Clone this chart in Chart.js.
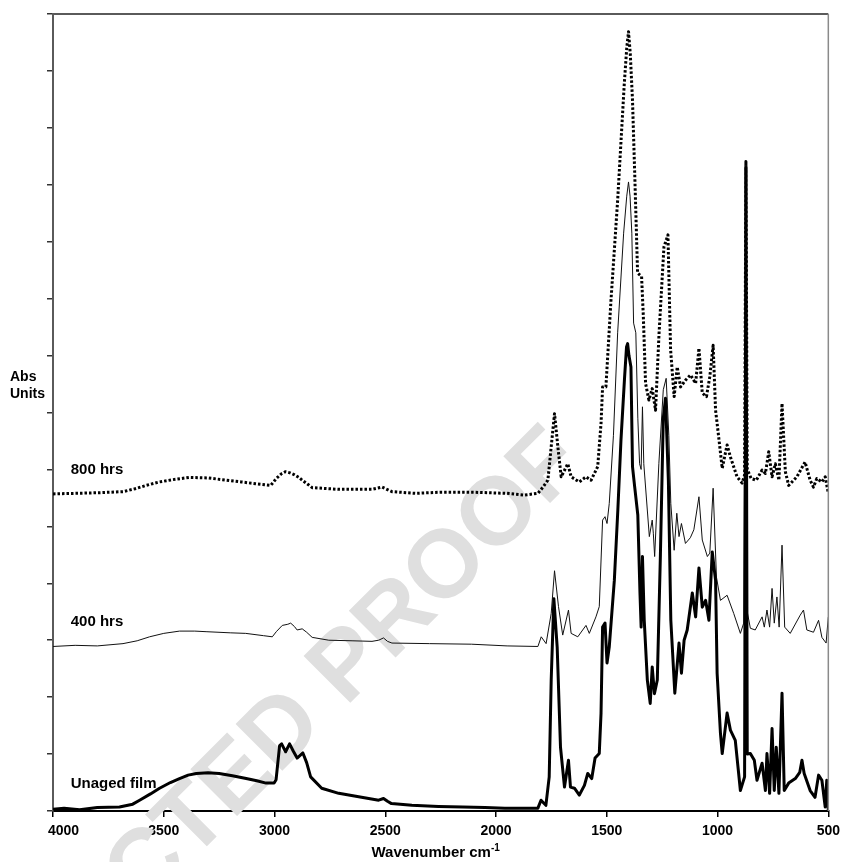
<!DOCTYPE html>
<html>
<head>
<meta charset="utf-8">
<script src="https://cdn.jsdelivr.net/npm/chart.js@4.4.0/dist/chart.umd.min.js"></script>
<style>
  html, body { margin: 0; padding: 0; background: #fff; }
  #wrap { width: 846px; height: 862px; }
</style>
</head>
<body>
<div id="wrap"><canvas id="chart" width="846" height="862"></canvas></div>
<script>
// FTIR spectra, wavenumber (cm-1) vs absorbance, curves offset vertically
const seriesNames = ['Unaged film', '400 hrs', '800 hrs']
const xTicks = [4000, 3500, 3000, 2500, 2000, 1500, 1000, 500]

const wnUnaged = [
  4000, 3950, 3880, 3800, 3700, 3640, 3609, 3560, 3519, 3470, 3429, 3390, 3353, 3300, 3250, 3190,
  3128, 3080, 3038, 3002, 2993, 2977, 2968, 2950, 2932, 2915, 2898, 2872, 2855, 2837, 2787, 2710,
  2620, 2562, 2530, 2508, 2490, 2472, 2380, 2260, 2150, 2050, 1960, 1880, 1811, 1797, 1785, 1775,
  1760, 1751, 1739, 1724, 1709, 1691, 1673, 1664, 1646, 1624, 1601, 1586, 1568, 1553, 1534, 1526,
  1519, 1508, 1499, 1489, 1466, 1450, 1436, 1420, 1411, 1406, 1400, 1391, 1384, 1374, 1360, 1350,
  1345, 1339, 1331, 1317, 1304, 1295, 1285, 1272, 1258, 1245, 1235, 1222, 1211, 1193, 1174, 1163,
  1151, 1137, 1114, 1099, 1084, 1069, 1054, 1039, 1024, 1009, 1002, 987, 979, 957, 942, 920,
  897, 878, 872, 866, 852, 834, 822, 799, 784, 777, 765, 754, 744, 735, 723, 709,
  699, 679, 649, 629, 619, 609, 582, 560, 544, 529, 514, 507, 500,
]
const absUnaged = [
  0.03, 0.05, 0.02, 0.06, 0.07, 0.12, 0.19, 0.30, 0.40, 0.50, 0.57, 0.63, 0.66, 0.67, 0.66, 0.62,
  0.57, 0.53, 0.49, 0.49, 0.55, 1.15, 1.18, 1.04, 1.18, 1.05, 0.93, 1.02, 0.85, 0.60, 0.40, 0.31,
  0.25, 0.21, 0.19, 0.22, 0.17, 0.13, 0.10, 0.08, 0.07, 0.06, 0.05, 0.05, 0.05, 0.19, 0.14, 0.10,
  0.60, 2.30, 3.73, 2.88, 1.12, 0.42, 0.89, 0.42, 0.40, 0.28, 0.45, 0.66, 0.57, 0.93, 1.01, 1.72,
  3.23, 3.30, 2.60, 2.88, 4.05, 5.30, 6.52, 7.60, 8.15, 8.21, 8.00, 7.80, 6.05, 5.69, 5.20, 3.80,
  3.23, 4.47, 3.35, 2.30, 1.89, 2.53, 2.06, 2.30, 4.50, 6.90, 7.25, 5.80, 3.35, 2.07, 2.95, 2.42,
  3.00, 3.18, 3.83, 3.41, 4.27, 3.58, 3.70, 3.35, 4.55, 4.05, 2.42, 1.37, 1.01, 1.72, 1.42, 1.24,
  0.36, 0.60, 11.30, 1.00, 1.01, 0.89, 0.54, 0.84, 0.36, 1.01, 0.31, 1.45, 0.36, 1.12, 0.31, 2.07,
  0.36, 0.49, 0.57, 0.68, 0.89, 0.66, 0.36, 0.24, 0.63, 0.54, 0.07, 0.54, 0.00,
]

const wn400 = [
  4000, 3900, 3800, 3684, 3620, 3564, 3500, 3429, 3360, 3309, 3200, 3130, 3050, 3010, 2992, 2965,
  2940, 2927, 2910, 2898, 2875, 2855, 2830, 2755, 2650, 2560, 2530, 2508, 2490, 2470, 2300, 2111,
  1950, 1811, 1796, 1774, 1751, 1736, 1718, 1699, 1673, 1661, 1631, 1594, 1579, 1549, 1534, 1519,
  1508, 1499, 1489, 1470, 1451, 1424, 1410, 1402, 1395, 1387, 1379, 1369, 1360, 1352, 1345, 1339,
  1333, 1308, 1295, 1290, 1284, 1265, 1245, 1232, 1220, 1211, 1196, 1184, 1174, 1163, 1145, 1123,
  1107, 1084, 1069, 1046, 1035, 1020, 1005, 987, 957, 927, 897, 882, 872, 866, 852, 830,
  799, 789, 777, 765, 754, 744, 732, 722, 709, 697, 672, 627, 612, 597, 567, 544,
  529, 510, 500,
]
const abs400 = [
  2.89, 2.91, 2.90, 2.94, 2.99, 3.06, 3.12, 3.16, 3.16, 3.15, 3.13, 3.12, 3.08, 3.06, 3.15, 3.26,
  3.28, 3.30, 3.24, 3.18, 3.20, 3.14, 3.05, 3.00, 2.99, 2.98, 3.00, 3.04, 2.98, 2.95, 2.94, 2.93,
  2.90, 2.89, 3.06, 2.94, 3.47, 4.22, 3.59, 3.09, 3.53, 3.12, 3.06, 3.26, 3.12, 3.41, 3.59, 5.11,
  5.17, 5.05, 5.40, 6.60, 8.40, 10.15, 10.80, 11.05, 10.80, 10.15, 8.57, 8.40, 6.90, 6.10, 6.00, 7.10,
  6.10, 4.82, 5.11, 4.88, 4.47, 6.10, 7.40, 7.60, 6.60, 5.40, 4.58, 5.23, 4.82, 5.05, 4.70, 4.80,
  4.94, 5.52, 4.76, 4.47, 4.53, 5.67, 4.11, 3.70, 3.79, 3.47, 3.12, 3.30, 11.35, 3.50, 3.21, 3.18,
  3.41, 3.23, 3.53, 3.23, 3.91, 3.30, 3.76, 3.23, 4.67, 3.23, 3.12, 3.44, 3.53, 3.18, 3.14, 3.35,
  3.05, 2.95, 3.41,
]

const wn800 = [
  4000, 3900, 3800, 3684, 3630, 3579, 3520, 3460, 3384, 3300, 3235, 3150, 3085, 3017, 2992, 2970,
  2950, 2930, 2912, 2890, 2875, 2850, 2830, 2710, 2560, 2515, 2470, 2365, 2250, 2111, 1950, 1871,
  1811, 1788, 1766, 1751, 1736, 1721, 1706, 1676, 1661, 1624, 1594, 1571, 1541, 1526, 1519, 1504,
  1481, 1451, 1421, 1410, 1402, 1394, 1384, 1374, 1361, 1343, 1335, 1325, 1310, 1295, 1280, 1264,
  1242, 1224, 1212, 1196, 1182, 1167, 1144, 1122, 1099, 1084, 1069, 1050, 1035, 1020, 1009, 1002,
  979, 957, 942, 912, 889, 878, 872, 866, 848, 825, 799, 784, 769, 754, 739, 723,
  709, 694, 679, 642, 605, 582, 567, 552, 529, 514, 500,
]
const abs800 = [
  5.57, 5.58, 5.59, 5.61, 5.66, 5.72, 5.78, 5.82, 5.86, 5.85, 5.82, 5.78, 5.75, 5.72, 5.84, 5.92,
  5.96, 5.94, 5.91, 5.86, 5.81, 5.74, 5.68, 5.65, 5.65, 5.69, 5.61, 5.58, 5.60, 5.60, 5.58, 5.55,
  5.58, 5.69, 5.81, 6.40, 6.98, 6.40, 5.87, 6.10, 5.87, 5.78, 5.87, 5.81, 6.05, 6.81, 7.45, 7.45,
  8.98, 10.73, 12.78, 13.40, 13.69, 13.30, 12.49, 11.20, 9.45, 9.39, 8.68, 7.51, 7.22, 7.42, 7.04, 8.40,
  9.91, 10.12, 8.10, 7.28, 7.80, 7.45, 7.57, 7.66, 7.51, 8.13, 7.34, 7.28, 7.63, 8.18, 7.04, 6.81,
  6.02, 6.43, 6.22, 5.87, 5.76, 5.90, 11.41, 6.00, 5.84, 5.81, 5.99, 5.93, 6.31, 5.87, 6.10, 5.81,
  7.16, 5.96, 5.72, 5.87, 6.13, 5.81, 5.69, 5.84, 5.78, 5.87, 5.58,
]

function toPoints (xs, ys) {
  return xs.map((x, i) => ({ x: x, y: ys[i] }))
}

const datasets = [
  {
    label: seriesNames[0],
    data: toPoints(wnUnaged, absUnaged),
    borderColor: '#000',
    borderWidth: 3,
  },
  {
    label: seriesNames[1],
    data: toPoints(wn400, abs400),
    borderColor: '#111',
    borderWidth: 1,
  },
  {
    label: seriesNames[2],
    data: toPoints(wn800, abs800),
    borderColor: '#000',
    borderWidth: 3,
    borderDash: [2.5, 2],
  },
]

const FONT = '"Liberation Sans", Arial, sans-serif'

// grey diagonal stamp behind the curves
const stampPlugin = {
  id: 'stamp',
  beforeDatasetsDraw (chart) {
    const ctx = chart.ctx
    ctx.save()
    ctx.translate(587, 466)
    ctx.rotate(-45 * Math.PI / 180)
    ctx.font = 'bold 96px ' + FONT
    ctx.fillStyle = '#dfdfdf'
    ctx.textAlign = 'right'
    ctx.textBaseline = 'alphabetic'
    ctx.fillText('CORRECTED PROOF', 0, 0)
    ctx.restore()
  },
}

// frame, curve names and axis titles
const textPlugin = {
  id: 'texts',
  afterDraw (chart) {
    const ctx = chart.ctx
    const a = chart.chartArea
    const xs = chart.scales.x
    const ys = chart.scales.y
    ctx.save()

    ctx.strokeStyle = '#5a5a5a'
    ctx.lineWidth = 2
    ctx.beginPath()
    ctx.moveTo(a.left - 1, a.top)
    ctx.lineTo(a.right, a.top)
    ctx.stroke()
    ctx.strokeStyle = '#8a8a8a'
    ctx.lineWidth = 1.5
    ctx.beginPath()
    ctx.moveTo(a.right, a.top)
    ctx.lineTo(a.right, a.bottom)
    ctx.stroke()

    ctx.fillStyle = '#000'
    ctx.font = 'bold 15px ' + FONT
    ctx.textAlign = 'left'
    ctx.textBaseline = 'middle'
    const labelY = [0.48, 3.33, 5.99]
    for (let i = 0; i < seriesNames.length; i++) {
      ctx.fillText(seriesNames[i], xs.getPixelForValue(3920), ys.getPixelForValue(labelY[i]))
    }

    ctx.font = 'bold 14px ' + FONT
    ctx.textBaseline = 'alphabetic'
    ctx.fillText('Abs', 10, 381)
    ctx.fillText('Units', 10, 398)

    const cx = (a.left + a.right) / 2 - 5
    ctx.font = 'bold 15px ' + FONT
    const main = 'Wavenumber cm'
    const w1 = ctx.measureText(main).width
    ctx.font = 'bold 10px ' + FONT
    const w2 = ctx.measureText('-1').width
    const x0 = cx - (w1 + w2) / 2
    ctx.font = 'bold 15px ' + FONT
    ctx.fillText(main, x0, 857)
    ctx.font = 'bold 10px ' + FONT
    ctx.fillText('-1', x0 + w1, 851)
    ctx.restore()
  },
}

const config = {
  type: 'line',
  data: {
    datasets: datasets,
  },
  options: {
    responsive: false,
    animation: false,
    events: [],
    layout: {
      padding: { top: 14, right: 14, left: 0, bottom: 0 },
    },
    plugins: {
      legend: { display: false },
      tooltip: { enabled: false },
      title: { display: false },
    },
    elements: {
      point: { radius: 0 },
      line: { tension: 0, borderJoinStyle: 'round' },
    },
    scales: {
      x: {
        type: 'linear',
        reverse: true,
        min: 500,
        max: 4000,
        afterBuildTicks: function (scale) {
          scale.ticks = xTicks.map(v => ({ value: v }))
        },
        ticks: {
          color: '#000',
          maxRotation: 0,
          padding: 6,
          font: { family: FONT, size: 14, weight: 'bold' },
          // first label sits just inside the axis start
          callback: v => (v === 4000 ? '\u2003\u2002' + v : String(v)),
        },
        grid: {
          drawOnChartArea: false,
          tickLength: 6,
          color: '#000',
          lineWidth: 1.5,
        },
        border: { color: '#000', width: 2 },
        afterFit: function (scale) {
          scale.height = 51
        },
      },
      y: {
        min: 0,
        max: 14,
        ticks: {
          stepSize: 1,
          callback: () => '',
        },
        grid: {
          drawOnChartArea: false,
          tickLength: 6,
          color: '#333',
          lineWidth: 1.5,
        },
        border: { color: '#5a5a5a', width: 2 },
        afterFit: function (scale) {
          scale.width = 53
        },
      },
    },
  },
  plugins: [stampPlugin, textPlugin],
}

const ctx = document.getElementById('chart').getContext('2d')
const myChart = new Chart(ctx, config)
</script>
</body>
</html>
